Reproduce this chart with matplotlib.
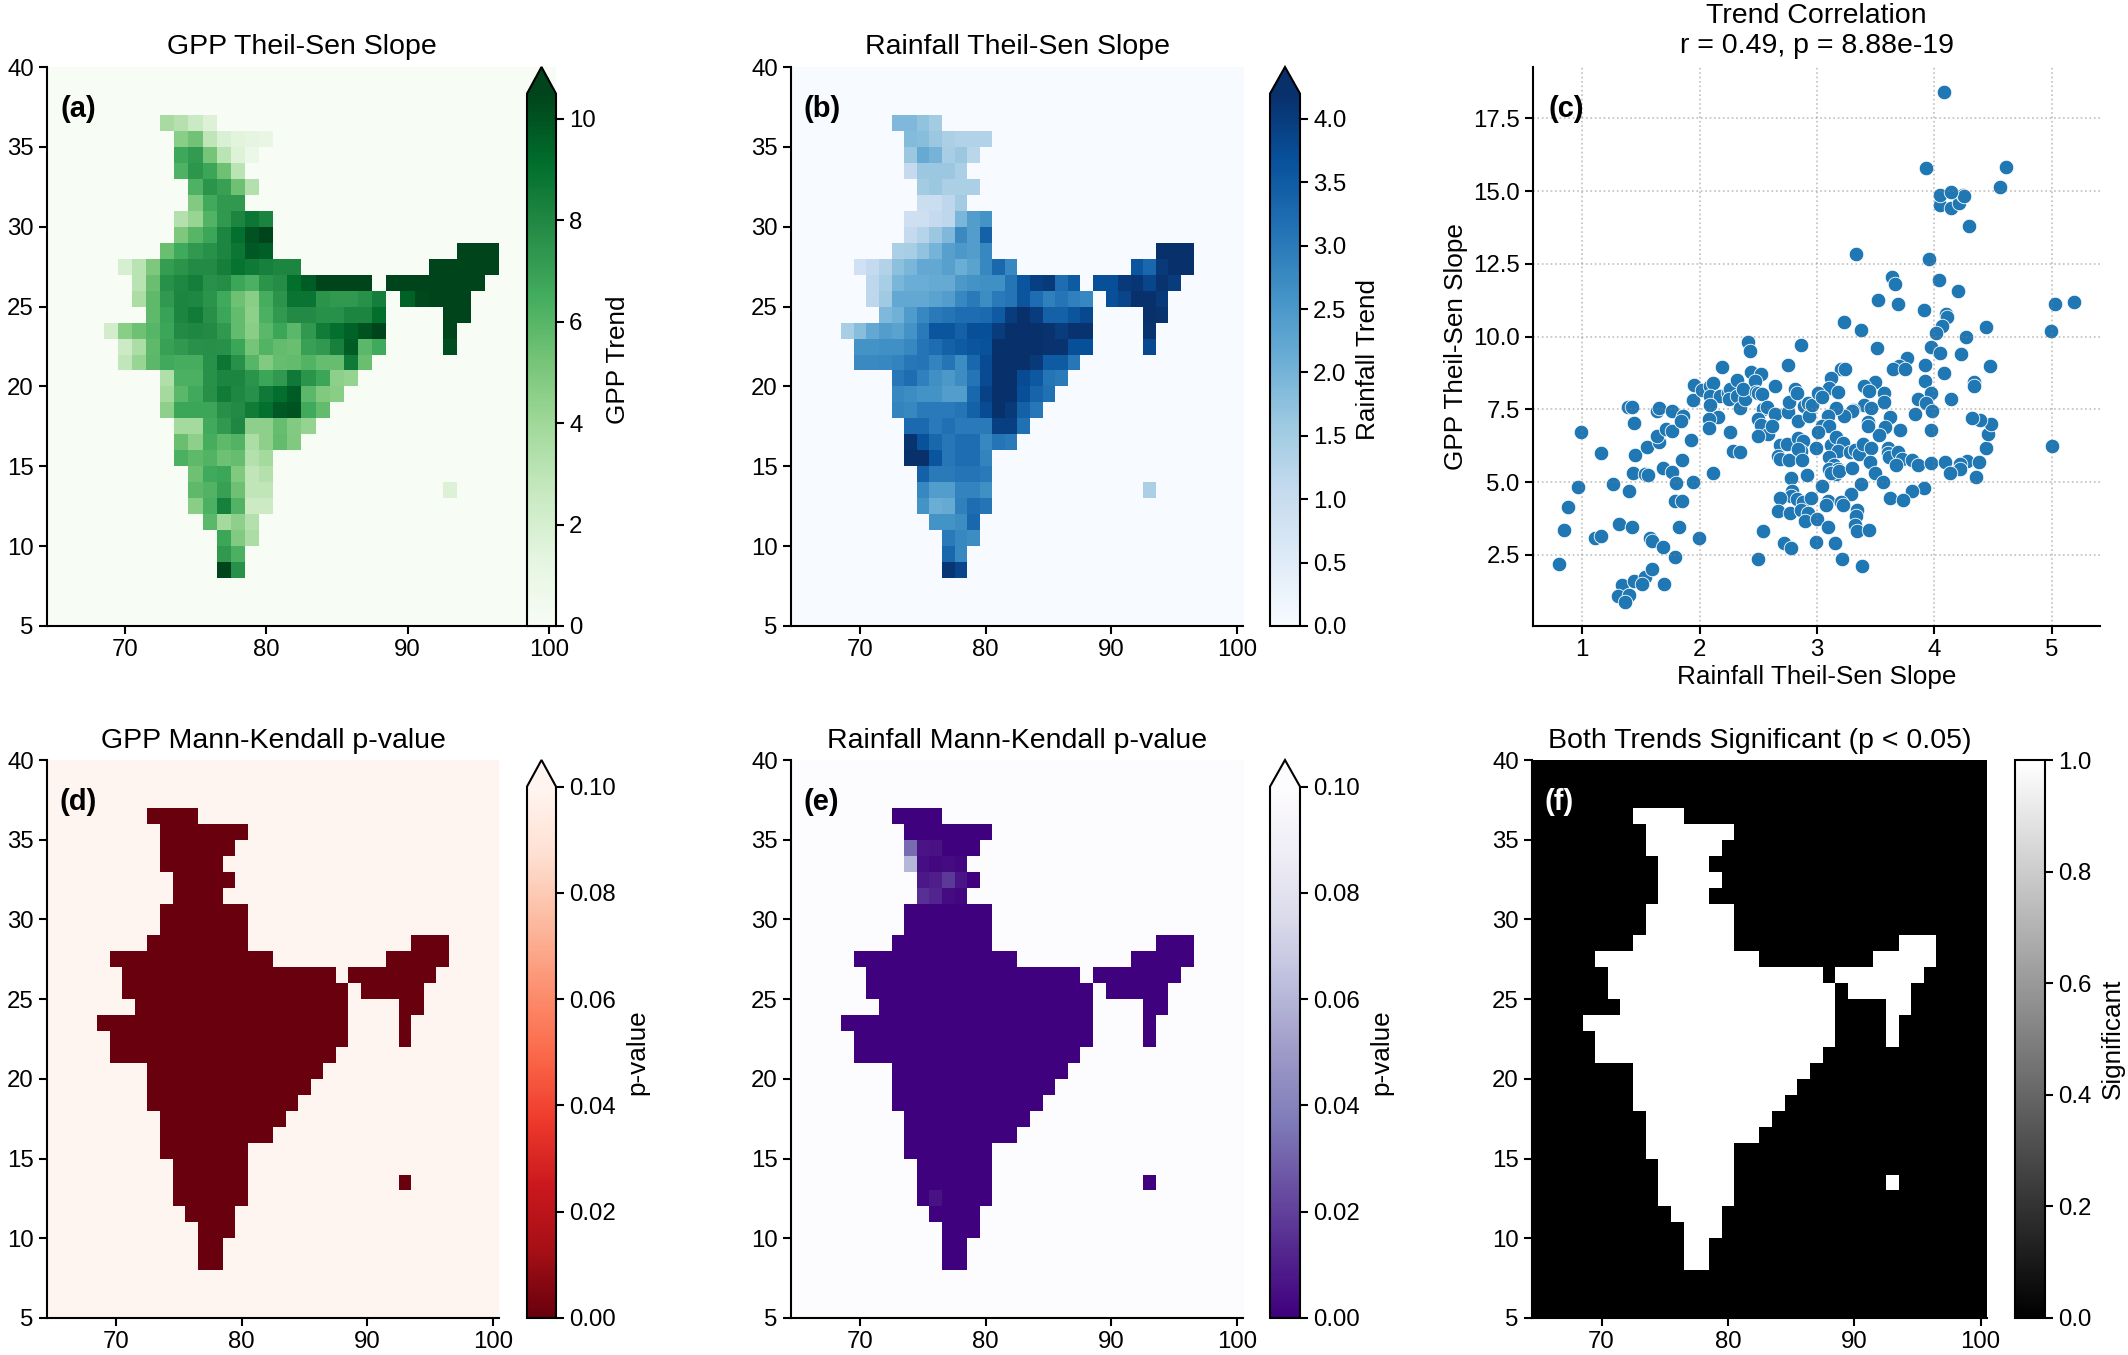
import numpy as np
import matplotlib
matplotlib.use('Agg')
from matplotlib import pyplot as plt

plt.rcParams['font.family'] = ['Liberation Sans', 'DejaVu Sans']
plt.rcParams['font.size'] = 17.3
plt.rcParams['axes.linewidth'] = 1.5
plt.rcParams['xtick.major.width'] = 1.5
plt.rcParams['ytick.major.width'] = 1.5
plt.rcParams['xtick.major.size'] = 6
plt.rcParams['ytick.major.size'] = 6

FIG_W, FIG_H = 2128, 1355

# GPP trend per 1 degree cell: {lat: {first lon: [values]}}
gpp_rows = {
    36: {73: [3.7, 3.2, 2.5, 1.7]},
    35: {74: [4.6, 5.3, 2.9, 1.8, 1.4, 1.2, 1.1]},
    34: {74: [6.7, 7.2, 5.2, 3.0, 1.6, 0.9]},
    33: {74: [6.2, 7.4, 6.8, 5.4, 3.0]},
    32: {75: [6.2, 7.5, 7.0, 5.4, 3.3]},
    31: {75: [4.8, 6.6, 7.3, 7.3]},
    30: {74: [3.3, 4.2, 6.1, 7.3, 8.1, 8.7, 8.2]},
    29: {74: [5.0, 6.0, 6.8, 8.1, 9.0, 10.0, 10.5]},
    28: {73: [5.5, 6.6, 7.3, 7.6, 8.1, 8.7, 9.8, 9.6], 94: [10.7, 10.7, 10.7]},
    27: {70: [1.9, 3.1, 5.0, 7.1, 7.5, 7.9, 7.9, 8.4, 8.9, 8.6, 8.3, 8.1, 8.1],
         92: [10.7, 10.7, 10.7, 10.7, 10.7]},
    26: {71: [3.1, 5.5, 7.6, 8.0, 8.4, 7.6, 7.8, 6.8, 6.3, 7.5, 7.8, 9.1, 9.7, 10.7, 10.7, 10.7, 10.7],
         89: [10.7, 10.7, 10.7, 10.7, 10.7, 10.7, 10.7]},
    25: {71: [3.6, 5.8, 7.3, 8.1, 8.0, 7.5, 6.6, 5.4, 4.6, 6.4, 7.5, 8.8, 8.8, 7.5, 7.3, 7.3, 7.6, 8.4],
         90: [9.5, 10.3, 10.5, 10.7, 10.7]},
    24: {72: [5.8, 6.9, 8.1, 8.5, 7.7, 6.8, 5.7, 4.5, 6.3, 7.3, 7.9, 7.9, 7.6, 7.6, 8.1, 8.1, 9.1],
         93: [10.7, 10.7]},
    23: {69: [2.1, 4.6, 5.4, 6.0, 6.8, 7.9, 8.0, 7.9, 7.3, 5.7, 4.6, 5.9, 6.8, 5.9, 7.3, 8.5, 9.0, 9.5, 10.0, 10.7],
         93: [10.5]},
    22: {70: [2.4, 3.6, 5.8, 7.0, 7.3, 7.6, 7.7, 7.6, 6.8, 5.2, 6.1, 5.7, 5.5, 7.0, 7.3, 8.3, 9.7, 5.9, 6.6],
         93: [10.2]},
    21: {70: [2.8, 4.2, 5.9, 6.6, 6.4, 6.4, 7.6, 8.7, 7.6, 6.0, 4.8, 5.6, 5.7, 6.1, 5.6, 5.6, 8.6, 5.5]},
    20: {73: [3.4, 6.3, 6.3, 7.6, 8.1, 8.1, 7.5, 6.8, 7.3, 8.6, 7.5, 6.8, 4.5, 4.3]},
    19: {73: [3.8, 5.9, 6.6, 7.7, 8.5, 8.0, 7.6, 8.6, 9.1, 9.7, 5.9, 4.9, 4.6]},
    18: {73: [4.5, 6.8, 6.8, 6.8, 7.7, 7.9, 8.5, 9.0, 9.8, 10.0, 6.6, 5.7]},
    17: {74: [3.8, 3.8, 6.6, 7.3, 8.0, 4.5, 4.5, 5.6, 4.8, 4.3]},
    16: {74: [5.5, 4.5, 6.4, 5.8, 6.1, 3.6, 4.5, 5.7, 4.9]},
    15: {74: [6.3, 5.8, 6.1, 5.4, 5.6, 3.3, 3.8]},
    14: {75: [5.4, 6.6, 6.8, 4.9, 2.9, 3.3]},
    13: {75: [5.8, 6.1, 7.0, 5.4, 2.9, 2.9], 93: [1.7]},
    12: {75: [4.6, 6.3, 8.3, 6.1, 2.4, 2.4]},
    11: {76: [5.9, 3.8, 4.5, 3.3]},
    10: {77: [6.8, 4.8, 3.6]},
    9: {77: [7.3, 6.3]},
    8: {77: [10.7, 7.6]},
}

# rainfall trend, same cells
rain_rows = {
    36: {73: [1.9, 1.9, 1.7, 1.5]},
    35: {74: [1.85, 1.8, 1.6, 1.4, 1.3, 1.3, 1.3]},
    34: {74: [1.6, 2.15, 2.0, 1.45, 1.6, 1.2]},
    33: {74: [1.05, 1.6, 1.6, 1.6, 1.4]},
    32: {75: [1.5, 1.6, 1.4, 1.4, 1.4]},
    31: {75: [0.95, 0.95, 1.15, 1.5]},
    30: {74: [0.9, 0.9, 1.05, 1.15, 1.95, 2.4, 2.6]},
    29: {74: [1.05, 1.25, 1.6, 1.9, 2.75, 2.4, 3.4]},
    28: {73: [1.4, 1.45, 1.7, 2.0, 2.35, 2.5, 2.4, 2.8], 94: [4.3, 4.3, 4.3]},
    27: {70: [0.85, 1.05, 1.3, 1.75, 1.95, 2.2, 2.2, 2.35, 2.1, 2.3, 2.8, 3.3, 2.8],
         92: [3.6, 3.3, 4.05, 4.3, 4.3]},
    26: {71: [1.15, 1.45, 1.95, 2.1, 2.1, 2.15, 2.15, 2.5, 2.6, 2.65, 2.65, 3.1, 3.6, 3.95, 4.05, 3.2, 3.5],
         89: [3.7, 3.7, 4.05, 4.1, 3.85, 4.15, 4.0]},
    25: {71: [1.15, 1.55, 2.2, 2.2, 2.2, 2.3, 2.4, 2.8, 3.0, 2.7, 3.0, 3.1, 3.6, 3.2, 2.9, 3.1, 2.9, 2.8],
         90: [3.7, 3.85, 4.25, 4.25, 4.05]},
    24: {72: [1.9, 2.05, 2.45, 2.8, 3.0, 3.1, 3.2, 3.2, 3.25, 3.5, 4.0, 4.2, 4.0, 3.4, 3.4, 3.6, 3.8],
         93: [4.25, 4.15]},
    23: {69: [1.45, 1.8, 2.2, 2.4, 2.3, 2.6, 3.0, 3.6, 3.6, 3.4, 3.7, 3.7, 4.0, 4.3, 4.3, 4.3, 4.15, 4.0, 4.15, 4.15],
         93: [4.15]},
    22: {70: [2.6, 2.6, 2.65, 2.65, 2.8, 3.1, 3.2, 3.4, 3.5, 3.6, 3.65, 4.3, 4.3, 4.3, 4.3, 4.15, 4.15, 3.7, 3.7],
         93: [3.8]},
    21: {70: [2.75, 2.75, 2.8, 2.85, 3.05, 3.1, 2.85, 3.1, 2.7, 3.3, 3.75, 4.3, 4.3, 4.3, 4.05, 3.5, 3.5, 3.05]},
    20: {73: [3.05, 3.2, 2.9, 2.65, 2.5, 2.7, 3.1, 3.75, 4.3, 4.3, 3.75, 3.55, 3.1, 3.0]},
    19: {73: [2.8, 2.7, 2.6, 2.6, 2.4, 2.4, 3.3, 3.9, 4.3, 4.3, 3.7, 3.35, 3.15]},
    18: {73: [2.85, 2.8, 3.0, 3.0, 3.0, 3.1, 3.4, 3.75, 4.2, 4.05, 3.4, 3.05]},
    17: {74: [3.25, 3.25, 3.0, 3.15, 3.0, 3.0, 3.0, 3.95, 3.95, 3.15]},
    16: {74: [4.15, 3.65, 3.3, 3.05, 3.2, 3.2, 2.8, 3.1, 3.0]},
    15: {74: [4.3, 4.2, 3.6, 3.05, 3.2, 3.2, 2.85]},
    14: {75: [3.4, 3.0, 3.0, 3.1, 3.1, 3.0]},
    13: {75: [2.8, 2.4, 2.4, 2.85, 2.85, 2.65], 93: [1.4]},
    12: {75: [2.6, 2.1, 2.15, 2.9, 3.2, 3.1]},
    11: {76: [2.6, 2.6, 2.7, 3.3]},
    10: {77: [3.0, 2.8, 2.7]},
    9: {77: [3.3, 2.8]},
    8: {77: [4.1, 3.85]},
}

# rainfall p-values that are not close to zero: (lon, lat, p)
rain_p_cells = [
    (74, 34, 0.033), (75, 34, 0.007), (76, 34, 0.006),
    (74, 33, 0.060), (75, 33, 0.005), (76, 33, 0.003), (77, 33, 0.004), (78, 33, 0.002),
    (75, 32, 0.008), (76, 32, 0.010), (77, 32, 0.018), (78, 32, 0.007),
    (75, 31, 0.015), (76, 31, 0.012), (77, 31, 0.004), (78, 31, 0.002),
    (76, 12, 0.006),
]

# scatter of the two slopes, panel (c)
rain_slope = [
    0.80, 0.84, 0.88, 0.96, 0.99, 1.16, 1.11, 1.16, 1.26, 1.31, 1.40, 1.42, 1.39, 1.42, 1.44,
    1.45, 1.43, 1.34, 1.30, 1.40, 1.36, 1.44, 1.53, 1.51, 1.59, 1.70, 1.53, 1.56, 1.55, 1.58,
    1.59, 1.69, 1.79, 1.65, 1.64, 1.64, 1.65, 1.71, 1.76, 1.76, 1.86, 1.84, 1.69, 1.76, 1.80,
    1.79, 1.85, 1.82, 1.85, 1.93, 1.94, 1.99, 2.11, 1.94, 1.95, 2.02, 2.09, 2.11, 2.09, 2.17,
    2.09, 2.16, 2.08, 2.08, 2.19, 2.26, 2.28, 2.34, 2.24, 2.26, 2.25, 2.32, 2.32, 2.34, 2.39,
    2.37, 2.41, 2.43, 2.44, 2.52, 2.47, 2.48, 2.50, 2.53, 2.54, 2.57, 2.64, 2.64, 2.50, 2.52,
    2.58, 2.62, 2.50, 2.75, 2.86, 2.75, 2.76, 2.81, 2.83, 2.84, 2.89, 2.92, 2.93, 2.96, 2.68,
    2.74, 2.67, 2.68, 2.76, 2.84, 2.88, 2.86, 2.84, 2.87, 2.78, 2.91, 2.99, 3.04, 2.79, 2.78,
    2.68, 2.83, 2.88, 2.95, 2.67, 2.77, 2.86, 2.92, 2.90, 3.00, 2.54, 2.72, 2.78, 2.99, 2.50,
    3.09, 3.15, 3.21,
    3.23, 3.37, 3.52, 3.69, 3.91, 3.64, 3.66, 4.04, 4.20, 3.95, 3.33, 4.29, 4.05, 4.14, 4.21,
    4.24, 4.25, 4.05, 4.14, 3.93, 4.61, 4.56, 4.08, 5.03, 5.19, 4.99, 4.10, 4.11, 4.06, 4.01,
    4.44, 4.27, 3.97, 4.05, 4.23, 3.51, 3.77, 3.70, 3.65, 3.75, 3.92, 4.47, 4.08, 4.34, 4.34,
    3.92, 4.14, 3.97, 3.86, 3.93, 3.98, 3.83, 3.49, 3.40, 3.44, 3.57, 3.57, 3.40, 3.46, 3.31,
    3.30, 3.23, 3.62, 3.58, 3.53, 3.71, 3.97, 3.43, 3.43, 3.20, 3.24, 3.12, 3.10, 3.18, 3.01,
    3.04, 3.16, 3.09, 3.04, 3.10, 3.01, 3.12, 3.16, 3.22, 3.18, 3.10, 3.28, 3.32, 3.36, 3.39,
    3.46, 3.60, 3.60, 3.61, 3.69, 3.72, 3.67, 3.81, 3.86, 3.97, 4.09, 4.28, 4.38, 4.22, 4.22,
    4.13, 4.35, 4.44, 4.46, 4.48, 4.39, 4.32, 5.00, 3.14, 3.10, 3.18, 3.16, 3.12, 3.19, 3.45,
    3.30, 3.49, 3.56, 3.37, 3.29, 3.91, 3.81, 3.62, 3.73, 3.09, 3.08, 3.20, 3.22, 3.34, 3.33,
    3.32, 3.34, 3.44, 3.38,
]
gpp_slope = [
    2.19, 3.36, 4.15, 4.83, 6.71, 5.99, 3.08, 3.14, 4.94, 3.58, 4.70, 3.45, 7.58, 7.58, 7.02,
    5.95, 5.31, 1.46, 1.09, 1.12, 0.88, 1.61, 1.74, 1.51, 2.02, 1.51, 5.29, 5.24, 6.22, 3.08,
    2.98, 2.79, 2.44, 6.39, 6.59, 7.43, 7.55, 6.82, 6.75, 7.43, 7.28, 7.10, 5.49, 5.34, 4.98,
    4.36, 4.36, 3.46, 5.77, 6.45, 4.99, 3.08, 5.31, 7.83, 8.35, 8.15, 8.31, 8.42, 7.97, 7.95,
    7.64, 7.25, 7.16, 6.87, 8.94, 6.72, 6.07, 6.03, 8.05, 8.20, 7.86, 8.52, 7.97, 7.56, 7.86,
    8.21, 9.80, 9.50, 8.78, 8.70, 8.49, 8.11, 8.05, 8.02, 7.52, 7.59, 7.35, 8.30, 7.18, 6.97,
    6.67, 6.94, 6.59, 9.01, 9.72, 7.41, 7.74, 8.20, 8.05, 7.11, 7.63, 7.71, 7.26, 7.65, 6.26,
    6.31, 5.89, 5.79, 5.77, 6.53, 6.42, 6.08, 6.14, 5.76, 5.16, 5.24, 6.17, 4.87, 4.69, 4.53,
    4.44, 4.43, 4.33, 4.47, 4.00, 3.93, 4.05, 3.93, 3.66, 3.75, 3.33, 2.91, 2.74, 2.96, 2.37,
    3.46, 2.91, 2.36,
    10.49, 10.22, 11.24, 11.12, 10.92, 12.05, 11.82, 11.96, 11.57, 12.66, 12.84, 13.80, 14.52, 14.41, 14.58,
    14.85, 14.83, 14.88, 14.95, 15.78, 15.81, 15.13, 18.39, 11.11, 11.20, 10.18, 10.79, 10.67, 10.35, 10.13,
    10.32, 9.98, 9.65, 9.45, 9.39, 9.61, 9.25, 9.00, 8.89, 8.88, 9.04, 8.99, 8.74, 8.43, 8.31,
    8.49, 7.84, 8.05, 7.86, 7.71, 7.45, 7.34, 8.43, 8.29, 8.12, 8.08, 7.76, 7.66, 7.55, 7.48,
    7.43, 7.26, 7.25, 6.88, 6.63, 6.79, 6.79, 7.05, 6.93, 8.88, 8.88, 8.59, 8.23, 8.11, 8.08,
    7.92, 7.56, 7.28, 6.93, 6.94, 6.74, 6.28, 6.56, 6.36, 6.08, 5.85, 6.02, 6.12, 5.96, 6.31,
    6.19, 6.19, 5.99, 5.85, 6.02, 5.81, 5.60, 5.76, 5.60, 5.65, 5.69, 5.73, 5.70, 5.61, 5.45,
    5.33, 5.19, 6.18, 6.66, 7.00, 7.14, 7.22, 6.23, 5.60, 5.45, 5.45, 5.28, 5.30, 5.39, 5.68,
    5.50, 5.33, 5.00, 4.94, 4.59, 4.81, 4.68, 4.46, 4.38, 4.36, 4.21, 4.33, 4.21, 4.05, 3.85,
    3.54, 3.33, 3.37, 2.12,
]

lons = np.arange(65, 101)
lats = np.arange(5, 40)
extent = (64.5, 100.5, 5, 40)
map_xticks = [70, 80, 90, 100]
map_yticks = [5, 10, 15, 20, 25, 30, 35, 40]


def fill_grid(rows):
    grid = np.zeros((len(lats), len(lons)))
    for lat, spans in rows.items():
        for first, vals in spans.items():
            for i, v in enumerate(vals):
                grid[lat - lats[0], first + i - lons[0]] = v
    return grid


gpp_grid = fill_grid(gpp_rows)
rain_grid = fill_grid(rain_rows)
land = gpp_grid > 0

gpp_p = np.where(land, 0.0005, 1.0)
rain_p = np.where(land, 0.0005, 1.0)
for lon, lat, p in rain_p_cells:
    rain_p[lat - lats[0], lon - lons[0]] = p
both_sig = ((gpp_p < 0.05) & (rain_p < 0.05)).astype(float)


def place(l, t, r, b):
    # axes box given in figure pixels, from the top left
    return fig.add_axes([l / FIG_W, 1 - b / FIG_H, (r - l) / FIG_W, (b - t) / FIG_H])


def draw_map(box, cbox, grid, cmap, vmax, title, letter, clabel, cticks, cfmt, extend, letter_color='black'):
    ax = place(*box)
    im = ax.imshow(grid, origin='lower', extent=extent, aspect='auto', cmap=cmap,
                   vmin=0, vmax=vmax, interpolation='nearest')
    ax.set_xticks(map_xticks)
    ax.set_yticks(map_yticks)
    ax.spines['top'].set_visible(False)
    ax.spines['right'].set_visible(False)
    ax.set_title(title, fontsize=20.5, pad=9)
    ax.text(0.027, 0.95, letter, transform=ax.transAxes, fontsize=21, fontweight='bold',
            va='top', color=letter_color)
    cax = place(*cbox)
    cb = fig.colorbar(im, cax=cax, extend=extend, ticks=cticks, format=cfmt)
    cb.set_label(clabel, fontsize=18.8, labelpad=7)
    cb.outline.set_linewidth(1.5)
    return ax


fig = plt.figure(figsize=(FIG_W / 100, FIG_H / 100), dpi=100)

top, bottom = 67, 626
top2, bottom2 = 760, 1318

draw_map((47, top, 556, bottom), (527, top, 556, bottom), gpp_grid, 'Greens', 10.5,
         'GPP Theil-Sen Slope', '(a)', 'GPP Trend', [0, 2, 4, 6, 8, 10], None, 'max')
draw_map((791, top, 1243, bottom), (1270, top, 1300, bottom), rain_grid, 'Blues', 4.2,
         'Rainfall Theil-Sen Slope', '(b)', 'Rainfall Trend',
         [0, 0.5, 1, 1.5, 2, 2.5, 3, 3.5, 4], '%.1f', 'max')
draw_map((47, top2, 499, bottom2), (527, top2, 556, bottom2), gpp_p, 'Reds_r', 0.1,
         'GPP Mann-Kendall p-value', '(d)', 'p-value',
         [0, 0.02, 0.04, 0.06, 0.08, 0.1], '%.2f', 'max')
draw_map((791, top2, 1243, bottom2), (1270, top2, 1300, bottom2), rain_p, 'Purples_r', 0.1,
         'Rainfall Mann-Kendall p-value', '(e)', 'p-value',
         [0, 0.02, 0.04, 0.06, 0.08, 0.1], '%.2f', 'max')
draw_map((1532, top2, 1987, bottom2), (2015, top2, 2045, bottom2), both_sig, 'gray', 1,
         'Both Trends Significant (p < 0.05)', '(f)', 'Significant',
         [0, 0.2, 0.4, 0.6, 0.8, 1], '%.1f', 'neither', letter_color='white')

# scatter panel
ax = place(1533, top, 2100, bottom)
ax.scatter(rain_slope, gpp_slope, s=110, color='#1f77b4', edgecolor='white', linewidth=0.6)
ax.set_xlim(0.58, 5.41)
ax.set_ylim(0.06, 19.26)
ax.set_xticks([1, 2, 3, 4, 5])
ax.set_yticks([2.5, 5, 7.5, 10, 12.5, 15, 17.5])
ax.set_yticklabels(['2.5', '5.0', '7.5', '10.0', '12.5', '15.0', '17.5'])
ax.grid(True, linestyle=':', color='gray', alpha=0.5, linewidth=1.2)
ax.spines['top'].set_visible(False)
ax.spines['right'].set_visible(False)
ax.set_xlabel('Rainfall Theil-Sen Slope', fontsize=18.8, labelpad=3)
ax.set_ylabel('GPP Theil-Sen Slope', fontsize=18.8, labelpad=4)
ax.set_title('Trend Correlation\nr = 0.49, p = 8.88e-19', fontsize=20.5, pad=10)
ax.text(0.027, 0.95, '(c)', transform=ax.transAxes, fontsize=21, fontweight='bold', va='top')

fig.savefig('out.png', dpi=100)
